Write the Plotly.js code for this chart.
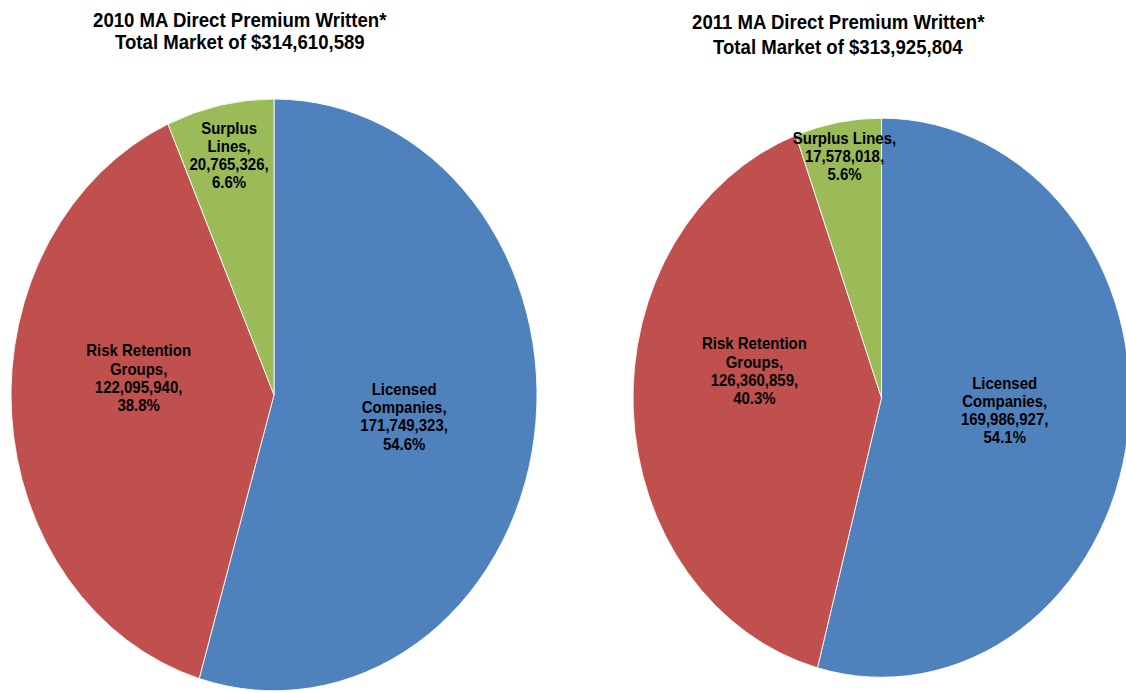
<!DOCTYPE html>
<html>
<head>
<meta charset="utf-8">
<script src="https://cdn.plot.ly/plotly-3.0.1.min.js"></script>
<style>
  html, body { margin: 0; padding: 0; background: #ffffff; overflow: hidden; width: 1126px; height: 693px; }
  #plot { width: 1140px; height: 616px; transform: scaleY(1.125); transform-origin: 0 0; }
</style>
</head>
<body>
<div id="plot"></div>
<script>
// ---- data ----
const years = ["2010", "2011"];
const totals = ["$314,610,589", "$313,925,804"];
const categories2010 = ["Licensed<br>Companies", "Risk Retention<br>Groups", "Surplus<br>Lines"];
const categories2011 = ["Licensed<br>Companies", "Risk Retention<br>Groups", "Surplus Lines"];
const values2010 = [171749323, 122095940, 20765326];
const values2011 = [169986927, 126360859, 17578018];
const sliceColors = ["#4F81BD", "#C0504D", "#9BBB59"];

// label styling tweaks (vertical nudges in em, per pie / per slice)
const labelShift = [[0, -1.6, 0], [-0.35, -2.0, -0.45]];

const W = 1140, H = 616;
const px = x => x / W;
const py = y => 1 - y / H;

function pieTrace(labels, values, dom) {
  return {
    type: 'pie',
    labels: labels,
    values: values,
    sort: false,
    direction: 'clockwise',
    rotation: 0,
    marker: { colors: sliceColors, line: { color: '#ffffff', width: 0.8 } },
    texttemplate: '%{label},<br>%{value:,},<br>%{percent:.1%}',
    textposition: 'inside',
    insidetextorientation: 'horizontal',
    textfont: { family: 'Liberation Sans, Arial, sans-serif', size: 15, color: '#000000', weight: 'bold' },
    insidetextfont: { family: 'Liberation Sans, Arial, sans-serif', size: 15, color: '#000000', weight: 'bold' },
    hoverinfo: 'none',
    showlegend: false,
    domain: dom
  };
}

const data = [
  pieTrace(categories2010, values2010, { x: [px(11), px(537)], y: [py(614), py(88)] }),
  pieTrace(categories2011, values2011, { x: [px(633), px(1130)], y: [py(602), py(105)] })
];

const tFont = { family: 'Liberation Sans, Arial, sans-serif', size: 18.6, color: '#000000', weight: 'bold' };
function titleAnn(text, x, y) {
  return { text: text, x: px(x), y: py(y), xref: 'paper', yref: 'paper', xanchor: 'center', yanchor: 'middle', showarrow: false, font: tFont };
}

const layout = {
  width: W, height: H,
  margin: { l: 0, r: 0, t: 0, b: 0 },
  paper_bgcolor: '#ffffff',
  uniformtext: { mode: 'show', minsize: 15 },
  annotations: [
    titleAnn(years[0] + ' MA Direct Premium Written*', 240, 17.5),
    titleAnn('Total Market of ' + totals[0], 240, 37.8),
    titleAnn(years[1] + ' MA Direct Premium Written*', 838, 19.3),
    titleAnn('Total Market of ' + totals[1], 838, 41.8)
  ]
};

function tighten(gd) {
  gd.querySelectorAll('.pielayer .trace').forEach((tr, ti) => {
    tr.querySelectorAll('.slice').forEach((sl, si) => {
      const t = sl.querySelector('.slicetext');
      if (!t) return;
      const lines = t.querySelectorAll('tspan.line');
      const n = lines.length;
      const s = 1.08, o = 1.3;
      const shift = (labelShift[ti] && labelShift[ti][si]) || 0;
      lines.forEach((ln, i) => {
        ln.setAttribute('dy', (i * s + (n - 1) * (o - s) / 2 + shift) + 'em');
      });
    });
  });
}

Plotly.newPlot('plot', data, layout, { staticPlot: true, displayModeBar: false }).then(gd => tighten(gd));
</script>
</body>
</html>
